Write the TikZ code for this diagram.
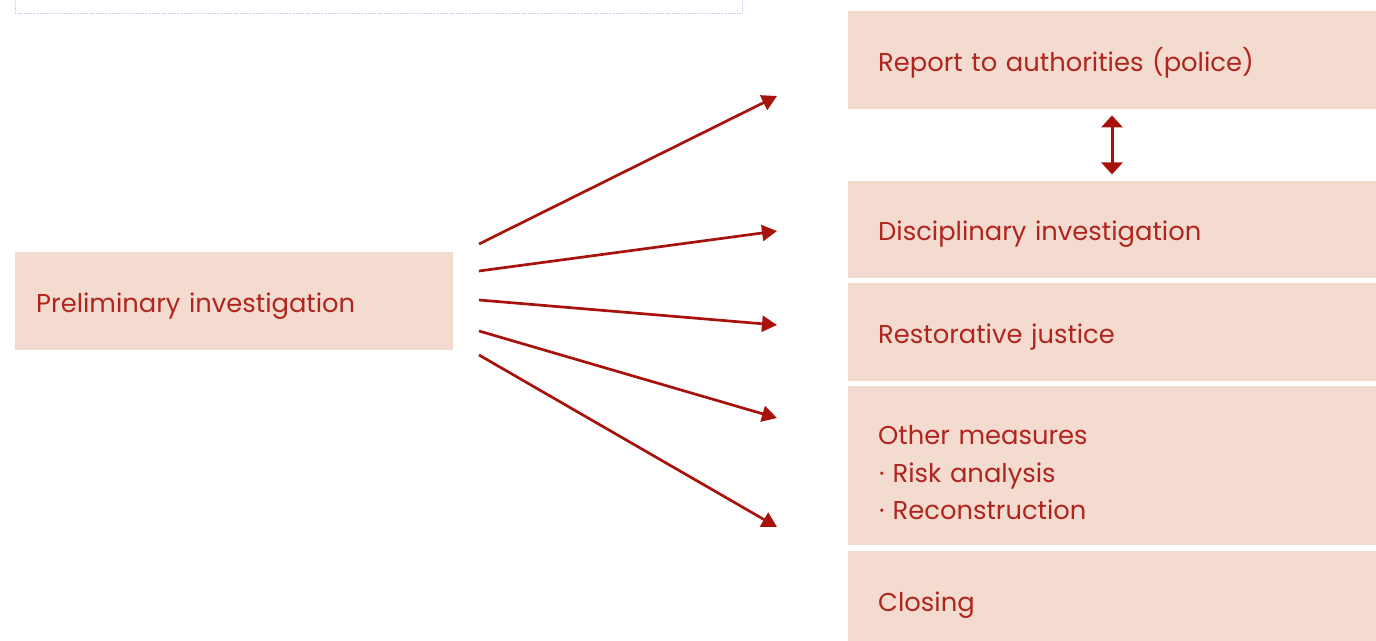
\documentclass[tikz,border=0pt]{standalone}
\usepackage{fontspec}
\setmainfont{Poppins}
\usepackage{xcolor}
\usepackage{tikz}
\usetikzlibrary{positioning}
\usetikzlibrary{arrows.meta}
\definecolor{boxfill}{HTML}{F3DBD0}
\definecolor{boxtext}{HTML}{B0261E}
\definecolor{arrowred}{HTML}{A8120D}
\definecolor{frameblue}{HTML}{C4C8EE}
\tikzset{edge/.style = {->,> = {Triangle[length=15pt,width=16pt]}, draw=arrowred, line width=2.7pt}}

\begin{document}
\begin{tikzpicture}[x=1pt,y=-1pt,node distance=5pt,
    main box/.style={fill=boxfill,text=boxtext,anchor=north west,inner xsep=30pt,inner ysep=0pt,
      text width=468pt,minimum height=98pt,align=left,font=\fontsize{25.8}{37.5}\selectfont,
      execute at begin node={\rule{0pt}{30pt}},execute at end node={\rule[-7pt]{0pt}{7pt}}}]
                \useasboundingbox (0,0) rectangle (1376,640);
                \draw[frameblue, densely dotted, line width=0.8pt] (15,-5) rectangle (742,13);

                \node[main box, inner xsep=21pt, text width=396pt] (prelim) at (15,252) {Preliminary investigation};
                \node[main box] (report) at (848,11) {Report to authorities (police)};
                \node[main box, minimum height=97pt] (disc) [below=71pt of report] {Disciplinary investigation};
                \node[main box] (restore) [below=of disc] {Restorative justice};
                \node[main box, minimum height=159pt, execute at begin node={\rule{0pt}{40pt}}] (other) [below=of restore] {Other measures\\
                  \hspace{1pt}·\hspace{8pt}Risk analysis\\
                  \hspace{1pt}·\hspace{8pt}Reconstruction};
                \node[main box] (closing) [below=of other] {Closing};

                \coordinate (s1) at (479,244);
                \coordinate (s2) at (479,271);
                \coordinate (s3) at (479,300);
                \coordinate (s4) at (479,331);
                \coordinate (s5) at (479,355);
                \coordinate (e1) at (777,96);
                \coordinate (e2) at (777,231);
                \coordinate (e3) at (777,325);
                \coordinate (e4) at (777,418);
                \coordinate (e5) at (777,527);
                \coordinate (mid) at (1112,0);

                \path
                    (s1) edge[edge] (e1)
                    (s2) edge[edge] (e2)
                    (s3) edge[edge] (e3)
                    (s4) edge[edge] (e4)
                    (s5) edge[edge] (e5)
                    (report.south -| mid) edge[edge, <->, > = {Triangle[length=12pt,width=21pt]}, line width=3pt, shorten >=6pt, shorten <=6pt] (disc.north -| mid)
                    ;
            \end{tikzpicture}
\end{document}
